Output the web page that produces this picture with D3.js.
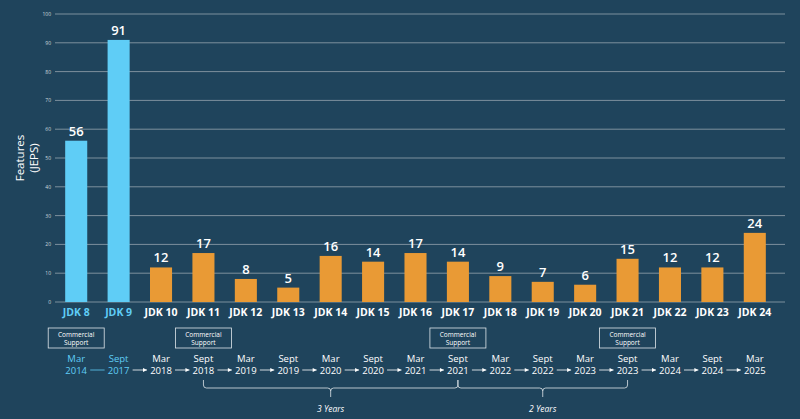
<!DOCTYPE html>
<html><head><meta charset="utf-8">
<script src="https://cdn.jsdelivr.net/npm/d3@7"></script>
<style>body{margin:0;background:#1f445c}svg{display:block}</style></head>
<body><svg id="c" width="800" height="419"></svg>
<script>
const categories=["JDK 8","JDK 9","JDK 10","JDK 11","JDK 12","JDK 13","JDK 14","JDK 15","JDK 16","JDK 17","JDK 18","JDK 19","JDK 20","JDK 21","JDK 22","JDK 23","JDK 24"];
const values=[56,91,12,17,8,5,16,14,17,14,9,7,6,15,12,12,24];
const months=["Mar","Sept","Mar","Sept","Mar","Sept","Mar","Sept","Mar","Sept","Mar","Sept","Mar","Sept","Mar","Sept","Mar"];
const years=["2014","2017","2018","2018","2019","2019","2020","2020","2021","2021","2022","2022","2023","2023","2024","2024","2025"];
const supportIdx=[0,3,9,13];
const yTicks=[0,10,20,30,40,50,60,70,80,90,100];
const svg=d3.select("#c");
const x=d3.scaleBand().domain(categories).range([55,776]).paddingInner(0.48).paddingOuter(0.24);
const y=d3.scaleLinear().domain([0,100]).range([302,14]);
const g=svg.append("g");
const F="Open Sans";
g.selectAll("line.grid").data(yTicks).join("line").attr("x1",55).attr("x2",785)
 .attr("y1",d=>y(d)).attr("y2",d=>y(d)).attr("stroke","#7d909d").attr("stroke-width",1);
g.selectAll("text.yt").data(yTicks).join("text").attr("x",51).attr("y",d=>y(d)+2).attr("text-anchor","end")
 .attr("fill","#cfd8de").attr("font-size",5).attr("font-family",F).text(d=>d);
const isOld=i=>i<2;
g.selectAll("rect").data(values).join("rect").attr("x",(d,i)=>x(categories[i])).attr("width",x.bandwidth())
 .attr("y",d=>y(d)).attr("height",d=>y(0)-y(d)).attr("fill",(d,i)=>isOld(i)?"#5fcdf6":"#e99a35");
g.selectAll("text.v").data(values).join("text").attr("x",(d,i)=>x(categories[i])+x.bandwidth()/2).attr("y",d=>y(d)-5)
 .attr("text-anchor","middle").attr("fill","#fff").attr("font-size",13).attr("font-weight",600).attr("font-family",F).text(d=>d);
const cx=i=>x(categories[i])+x.bandwidth()/2;
g.selectAll("text.c").data(categories).join("text").attr("x",(d,i)=>cx(i)).attr("y",316).attr("text-anchor","middle")
 .attr("fill",(d,i)=>isOld(i)?"#5fcdf6":"#fff").attr("font-size",10.5).attr("font-weight","bold").attr("font-family",F).text(d=>d);
svg.append("text").attr("transform","translate(24,158) rotate(-90)").attr("text-anchor","middle").attr("fill","#fff")
 .attr("font-size",11.5).attr("font-family",F).selectAll("tspan").data(["Features","(JEPS)"]).join("tspan")
 .attr("x",0).attr("dy",(d,i)=>i?14:0).text(d=>d);
supportIdx.forEach(i=>{const c=cx(i);
 g.append("rect").attr("x",c-28).attr("y",328).attr("width",56).attr("height",20).attr("fill","none").attr("stroke","#dfe6ea").attr("stroke-width",0.8);
 g.append("text").attr("x",c).attr("y",337).attr("text-anchor","middle").attr("fill","#fff").attr("font-size",6.5).attr("font-family",F).text("Commercial");
 g.append("text").attr("x",c).attr("y",345).attr("text-anchor","middle").attr("fill","#fff").attr("font-size",6.5).attr("font-family",F).text("Support");});
months.forEach((m,i)=>{const col=isOld(i)?"#5fcdf6":"#fff";
 g.append("text").attr("x",cx(i)).attr("y",362).attr("text-anchor","middle").attr("fill",col).attr("font-size",9.5).attr("font-family",F).text(m);
 g.append("text").attr("x",cx(i)).attr("y",374).attr("text-anchor","middle").attr("fill",col).attr("font-size",9.5).attr("font-family",F).text(years[i]);
 if(i<months.length-1){const a=cx(i)+14,b=cx(i+1)-14;
  g.append("line").attr("x1",a).attr("x2",b).attr("y1",370).attr("y2",370).attr("stroke",i===0?"#5fcdf6":"#fff").attr("stroke-width",0.8);
  if(i>0)g.append("path").attr("d",`M${b},370 l-4,-2 v4z`).attr("fill","#fff");}});
function bracket(i0,i1,label){const a=cx(i0),b=cx(i1),m=(a+b)/2;
 g.append("path").attr("d",`M${a},380 v5 q0,3 3,3 H${m-3} q3,0 3,3 v6 M${m},391 q0,-3 3,-3 H${b-3} q3,0 3,-3 v-5`).attr("fill","none").attr("stroke","#dfe6ea").attr("stroke-width",0.8);
 g.append("text").attr("x",m).attr("y",412).attr("text-anchor","middle").attr("fill","#fff").attr("font-size",8.5).attr("font-style","italic").attr("font-family",F).text(label);}
bracket(3,9,"3 Years");bracket(9,13,"2 Years");
</script></body></html>
